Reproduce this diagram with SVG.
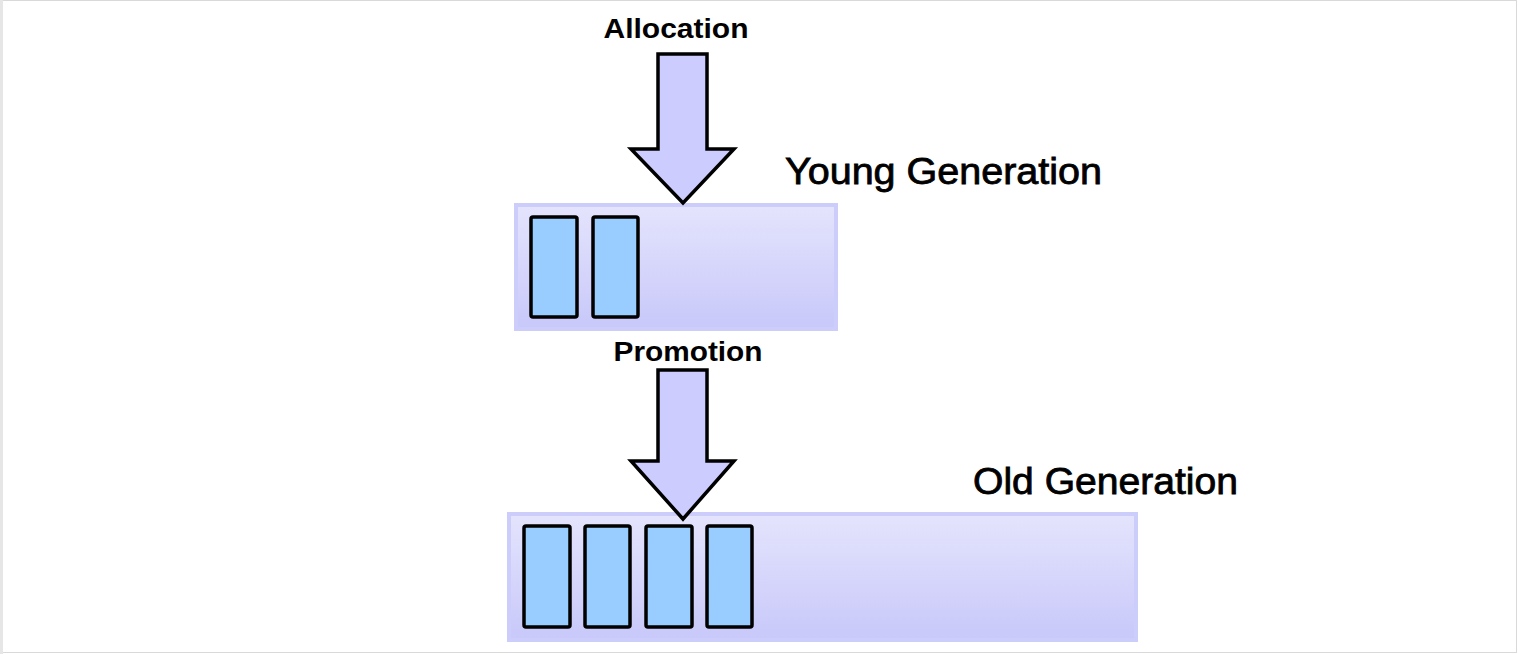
<svg xmlns="http://www.w3.org/2000/svg" width="1518" height="654" viewBox="0 0 1518 654">
  <defs>
    <linearGradient id="genFill" x1="0" y1="0" x2="0" y2="1">
      <stop offset="0" stop-color="#e4e4fd"/>
      <stop offset="1" stop-color="#c8c8fa"/>
    </linearGradient>
    <style>
      .frame { fill: #ffffff; stroke: #d9d9d9; stroke-width: 1; }
      .gen { fill: url(#genFill); stroke: #cdcdfc; stroke-width: 4; }
      .obj { fill: #99ccff; stroke: #000000; stroke-width: 3.5; }
      .flow { fill: #ccccff; stroke: #000000; stroke-width: 3.5; stroke-linejoin: miter; }
      .lbl { font-family: "Liberation Sans", Arial, sans-serif; font-weight: bold; font-size: 27px; fill: #000000; }
      .title { font-family: "Liberation Sans", Arial, sans-serif; font-size: 37px; fill: #000000; stroke: #000000; stroke-width: 0.8; }
    </style>
  </defs>

  <!-- page -->
  <rect class="frame" x="0.5" y="0.5" width="1516" height="652"/>
  <rect x="0" y="0" width="3" height="654" fill="#e6e6e6"/>

  <!-- young generation space -->
  <g id="young-generation">
    <rect class="gen" x="516" y="205" width="320" height="124"/>
    <rect class="obj" x="531" y="217" width="46" height="100" rx="2"/>
    <rect class="obj" x="593" y="217" width="45" height="100" rx="2"/>
    <text class="title" x="785" y="184" textLength="317" lengthAdjust="spacingAndGlyphs">Young Generation</text>
  </g>

  <!-- old generation space -->
  <g id="old-generation">
    <rect class="gen" x="509" y="514" width="627" height="126"/>
    <rect class="obj" x="524" y="526" width="46" height="101" rx="2"/>
    <rect class="obj" x="585" y="526" width="45" height="101" rx="2"/>
    <rect class="obj" x="646" y="526" width="46" height="101" rx="2"/>
    <rect class="obj" x="707" y="526" width="45" height="101" rx="2"/>
    <text class="title" x="973" y="494" textLength="265" lengthAdjust="spacingAndGlyphs">Old Generation</text>
  </g>

  <!-- block arrows between stages -->
  <g id="connectors">
    <g id="allocation">
      <polygon class="flow" points="658,54 707,54 707,149 734,149 683,203 631,149 658,149"/>
      <text class="lbl" x="676" y="38" text-anchor="middle" textLength="145" lengthAdjust="spacingAndGlyphs">Allocation</text>
    </g>
    <g id="promotion">
      <polygon class="flow" points="658,370 707,370 707,461 734,461 683,519 631,461 658,461"/>
      <text class="lbl" x="688" y="361" text-anchor="middle" textLength="149" lengthAdjust="spacingAndGlyphs">Promotion</text>
    </g>
  </g>
</svg>
